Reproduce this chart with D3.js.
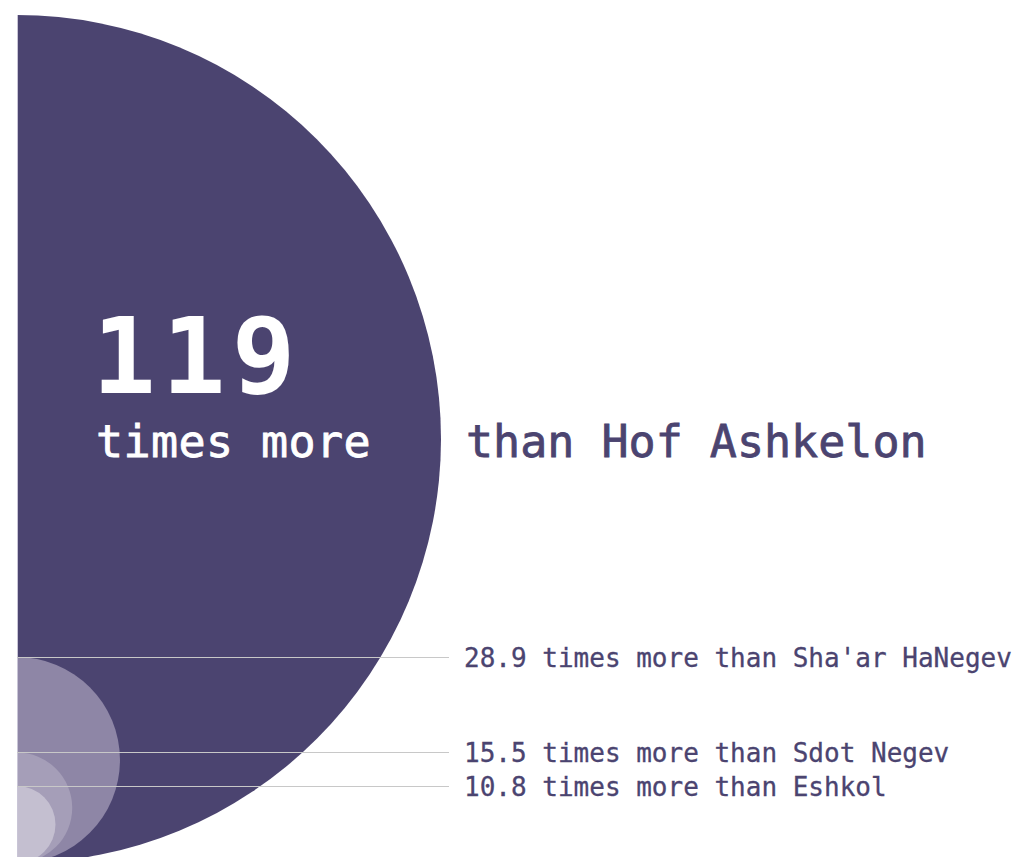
<!DOCTYPE html>
<html>
<head>
<meta charset="utf-8">
<script src="https://cdn.jsdelivr.net/npm/d3@7"></script>
<style>
  html, body { margin: 0; padding: 0; background: #fff; }
  svg { display: block; }
  text { font-family: "DejaVu Sans Mono", monospace; }
</style>
</head>
<body>
<svg id="chart" width="1017" height="857"></svg>
<script>
const regions = ["Hof Ashkelon", "Sha'ar HaNegev", "Sdot Negev", "Eshkol"];
const values = [119, 28.9, 15.5, 10.8];
const fills = ["#4b4470", "#8e86a6", "#a59eb8", "#c4bfd0"];

const W = 1017, H = 857;
const cx = 17, baseY = 863, maxR = 424;
const svg = d3.select("#chart");

const r = d3.scaleLinear().domain([0, d3.max(values)]).range([0, maxR]);
const arc = d3.arc().innerRadius(0).startAngle(0).endAngle(Math.PI);

const data = values.map((v, i) => ({ name: regions[i], value: v, fill: fills[i] }));

// half circles
svg.append("g").selectAll("path").data(data).join("path")
  .attr("transform", d => `translate(${cx},${baseY - r(d.value)})`)
  .attr("d", d => arc({ outerRadius: r(d.value) }))
  .attr("fill", d => d.fill);

// left edge line
svg.append("line")
  .attr("x1", cx + 0.5).attr("x2", cx + 0.5)
  .attr("y1", baseY - 2 * r(values[0])).attr("y2", H)
  .attr("stroke", "#c9c5d6").attr("stroke-width", 1);

// leader lines for smaller ones
const small = data.slice(1);
const topY = d => Math.floor(baseY - 2 * r(d.value)) + 0.5;
svg.append("g").selectAll("line").data(small).join("line")
  .attr("x1", cx).attr("x2", 449)
  .attr("y1", topY).attr("y2", topY)
  .attr("stroke", "#c8c8c8").attr("stroke-width", 1);

svg.append("g").selectAll("text").data(small).join("text")
  .attr("x", 464)
  .attr("y", d => topY(d) + 9.5)
  .attr("fill", "#4b4470")
  .attr("stroke", "#4b4470").attr("stroke-width", 0.3)
  .attr("font-size", 26)
  .text(d => `${d.value} times more than ${d.name}`);

// big label
svg.append("text")
  .attr("x", 92).attr("y", 393)
  .attr("fill", "#ffffff")
  .attr("font-size", 106)
  .attr("font-weight", "bold")
  .attr("letter-spacing", 6)
  .text(values[0]);

svg.append("text")
  .attr("x", 96).attr("y", 457)
  .attr("fill", "#ffffff")
  .attr("stroke", "#ffffff").attr("stroke-width", 0.8)
  .attr("font-size", 45)
  .attr("letter-spacing", 0.4)
  .text("times more");

svg.append("text")
  .attr("x", 466).attr("y", 457)
  .attr("fill", "#4b4470")
  .attr("stroke", "#4b4470").attr("stroke-width", 0.8)
  .attr("font-size", 45)
  .text("than " + regions[0]);
</script>
</body>
</html>
